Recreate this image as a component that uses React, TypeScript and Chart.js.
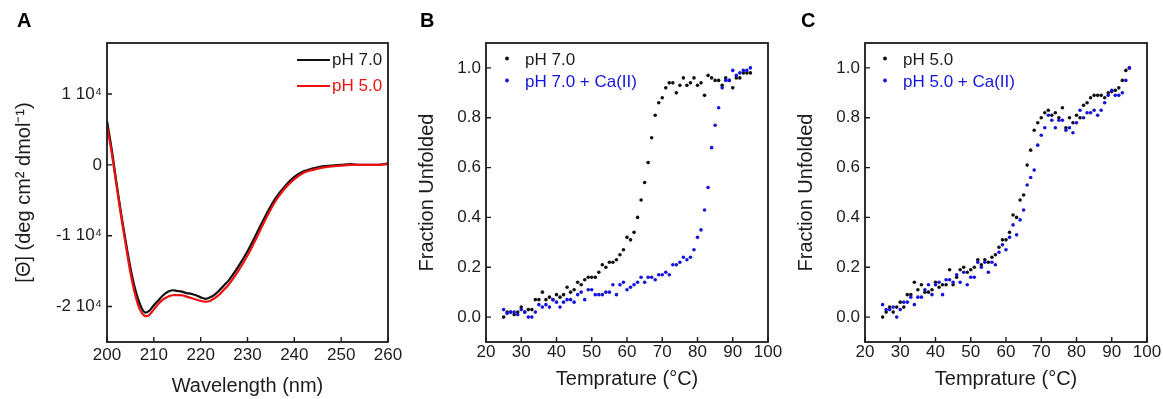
import React, { useEffect, useRef } from "react";
import { Chart, registerables } from "chart.js";

Chart.register(...registerables);

const FONT_FAMILY = "'Liberation Sans', Arial, Helvetica, sans-serif";
const TEXT_COLOR = "#1c1c1c";
const AXIS_COLOR = "#1a1a1a";
const BLACK = "#111111";
const RED = "#ee1111";
const BLUE = "#1414dc";

// ---------- Panel A: CD spectra ----------
const wavelengthNm = [
  200, 201, 202, 203, 204, 205, 206, 207, 208, 209, 210, 211, 212, 213, 214, 215, 216, 217, 218, 219,
  220, 221, 222, 223, 224, 225, 226, 228, 230, 232, 234, 236, 238, 240, 242, 244, 246, 248, 250, 252,
  254, 256, 258, 260,
];
const cdPH70 = [
  6200, 2200, -2400, -6800, -10800, -14500, -17500, -19600, -20800, -20600, -19800, -19100, -18400,
  -17900, -17700, -17800, -17900, -18100, -18200, -18400, -18700, -18900, -18700, -18300, -17700,
  -17000, -16300, -14400, -12200, -9600, -7000, -4700, -3000, -1700, -900, -500, -200, -100, 0, 100,
  0, 0, 0, 200,
];
const cdPH50 = [
  5500, 1700, -2800, -7200, -11300, -15200, -18300, -20400, -21300, -21200, -20400, -19600, -19000,
  -18600, -18400, -18400, -18400, -18600, -18800, -19000, -19200, -19300, -19200, -18800, -18300,
  -17600, -16900, -15000, -12800, -10200, -7500, -5100, -3300, -2000, -1100, -700, -400, -200, -100,
  0, 0, 0, 0, 100,
];
const cdXTicks = [200, 210, 220, 230, 240, 250, 260];
const cdYTickValues = [-20000, -10000, 0, 10000];
const cdYTickLabels = ["-2 10⁴", "-1 10⁴", "0", "1 10⁴"];

// ---------- Panels B & C: thermal unfolding ----------
const temperatureC = [
  25, 26, 27, 28, 29, 30, 31, 32, 33, 34, 35, 36, 37, 38, 39, 40, 41, 42, 43, 44, 45, 46, 47, 48, 49,
  50, 51, 52, 53, 54, 55, 56, 57, 58, 59, 60, 61, 62, 63, 64, 65, 66, 67, 68, 69, 70, 71, 72, 73, 74,
  75, 76, 77, 78, 79, 80, 81, 82, 83, 84, 85, 86, 87, 88, 89, 90, 91, 92, 93, 94, 95,
];
const unfoldPH70 = [
  0.0, 0.02, 0.02, 0.01, 0.02, 0.04, 0.02, 0.03, 0.03,
  0.07, 0.07, 0.1, 0.07, 0.08, 0.07, 0.09, 0.08, 0.09, 0.12,
  0.1, 0.11, 0.14, 0.13, 0.15, 0.16, 0.16, 0.16, 0.18, 0.21,
  0.2, 0.22, 0.22, 0.23, 0.25, 0.27, 0.32, 0.31, 0.34, 0.4,
  0.47, 0.54, 0.62, 0.72, 0.81, 0.86, 0.88, 0.92, 0.94, 0.94,
  0.9, 0.93, 0.96, 0.93, 0.94, 0.96, 0.93, 0.94, 0.89, 0.97,
  0.96, 0.95, 0.95, 0.93, 0.96, 0.95, 0.92, 0.96, 0.96, 0.98, 0.98, 0.98,
];
const unfoldPH70Ca = [
  0.03, 0.015, 0.02, 0.02, 0.01, 0.03, 0.02, 0.0, 0.0,
  0.02, 0.05, 0.04, 0.05, 0.04, 0.07, 0.06, 0.04, 0.06, 0.07,
  0.07, 0.06, 0.09, 0.1, 0.07, 0.11, 0.11, 0.09, 0.09, 0.09,
  0.1, 0.1, 0.13, 0.09, 0.13, 0.14, 0.11, 0.12, 0.13, 0.14,
  0.16, 0.14, 0.16, 0.16, 0.15, 0.17, 0.17, 0.18, 0.17, 0.21,
  0.21, 0.22, 0.24, 0.23, 0.24, 0.27, 0.32, 0.35, 0.43, 0.52,
  0.68, 0.77, 0.84, 0.92, 0.95, 0.95, 0.99, 0.97, 0.98, 0.99, 0.99, 1.0,
];
const unfoldPH50 = [
  0.0, 0.02, 0.04, 0.02, 0.04, 0.06, 0.04, 0.09, 0.09,
  0.14, 0.11, 0.13, 0.1, 0.1, 0.11, 0.14, 0.12, 0.13, 0.13,
  0.19, 0.13, 0.16, 0.19, 0.2, 0.18, 0.19, 0.2, 0.23, 0.21,
  0.23, 0.22, 0.24, 0.25, 0.28, 0.31, 0.31, 0.34, 0.41, 0.4,
  0.47, 0.49, 0.61, 0.67, 0.75, 0.78, 0.8, 0.82, 0.83, 0.81,
  0.82, 0.8, 0.84, 0.76, 0.8, 0.78, 0.81, 0.8, 0.85, 0.86,
  0.88, 0.89, 0.89, 0.89, 0.88, 0.9, 0.905, 0.91, 0.92, 0.95, 0.99, 1.0,
];
const unfoldPH50Ca = [
  0.05, 0.03, 0.03, 0.04, 0.0, 0.03, 0.06, 0.06, 0.08,
  0.05, 0.08, 0.08, 0.11, 0.13, 0.09, 0.13, 0.14, 0.09, 0.15,
  0.15, 0.14, 0.17, 0.14, 0.18, 0.13, 0.16, 0.16, 0.22, 0.2,
  0.22, 0.18, 0.22, 0.21, 0.26, 0.29, 0.27, 0.32, 0.37, 0.33,
  0.39, 0.43, 0.53, 0.56, 0.59, 0.69, 0.73, 0.76, 0.81, 0.79,
  0.76, 0.79, 0.79, 0.75, 0.76, 0.74, 0.78, 0.83, 0.8, 0.82,
  0.82, 0.83, 0.81, 0.83, 0.86, 0.89, 0.91, 0.89, 0.89, 0.9, 0.95, 1.0,
];
const tempXTicks = [20, 30, 40, 50, 60, 70, 80, 90, 100];
const fracYTicks = [0, 0.2, 0.4, 0.6, 0.8, 1.0];
const fracYTickLabels = ["0.0", "0.2", "0.4", "0.6", "0.8", "1.0"];

const tickFont = { family: FONT_FAMILY, size: 17 };
const titleFont = { family: FONT_FAMILY, size: 20 };

type LegendItem = { label: string; color: string; textColor: string; kind: "line" | "dot" };
type DecorCfg = {
  panelLabel: string;
  labelX: number;
  legend: LegendItem[];
  markDx: number;
  markDx2: number;
  textDx: number;
  rowY: number[];
};

function decorPlugin(cfg: DecorCfg) {
  return {
    id: "decor",
    afterDatasetsDraw(chart: any) {
      const { ctx, chartArea: a } = chart;
      const xs = chart.scales.x;
      const ys = chart.scales.y;
      ctx.save();
      // inward tick marks
      ctx.strokeStyle = AXIS_COLOR;
      ctx.lineWidth = 1.4;
      ctx.beginPath();
      xs.ticks.forEach((t: any) => {
        const p = xs.getPixelForValue(t.value);
        ctx.moveTo(p, a.bottom);
        ctx.lineTo(p, a.bottom - 5);
      });
      ys.ticks.forEach((t: any) => {
        const p = ys.getPixelForValue(t.value);
        ctx.moveTo(a.left, p);
        ctx.lineTo(a.left + 5, p);
      });
      ctx.stroke();
      // frame
      ctx.lineWidth = 1.8;
      ctx.strokeRect(a.left, a.top, a.right - a.left, a.bottom - a.top);
      // legend
      ctx.font = `17px ${FONT_FAMILY}`;
      ctx.textBaseline = "middle";
      ctx.textAlign = "left";
      cfg.legend.forEach((item, i) => {
        const y = a.top + cfg.rowY[i];
        if (item.kind === "line") {
          ctx.strokeStyle = item.color;
          ctx.lineWidth = 2;
          ctx.beginPath();
          ctx.moveTo(a.left + cfg.markDx, y);
          ctx.lineTo(a.left + cfg.markDx2, y);
          ctx.stroke();
        } else {
          ctx.fillStyle = item.color;
          ctx.beginPath();
          ctx.arc(a.left + cfg.markDx, y - 1.5, 1.9, 0, Math.PI * 2);
          ctx.fill();
        }
        ctx.fillStyle = item.textColor;
        ctx.fillText(item.label, a.left + cfg.textDx, y);
      });
      // panel letter
      ctx.font = `bold 20px ${FONT_FAMILY}`;
      ctx.textBaseline = "alphabetic";
      ctx.fillStyle = "#000";
      ctx.fillText(cfg.panelLabel, cfg.labelX, 27);
      ctx.restore();
    },
  };
}

function baseX(min: number, max: number, ticks: number[], title: string, tickPad: number, titlePadBottom: number) {
  return {
    type: "linear",
    min,
    max,
    afterBuildTicks: (s: any) => {
      s.ticks = ticks.map((v) => ({ value: v }));
    },
    afterFit: (s: any) => {
      s.height = 57;
      s.paddingLeft = 0;
      s.paddingRight = 0;
    },
    grid: { display: false, drawTicks: false },
    border: { display: false },
    ticks: {
      font: tickFont,
      color: TEXT_COLOR,
      padding: tickPad,
      maxRotation: 0,
      autoSkip: false,
      callback: (v: number) => String(v),
    },
    title: { display: true, text: title, font: titleFont, color: TEXT_COLOR, padding: { top: 0, bottom: titlePadBottom } },
  };
}

function baseY(
  min: number,
  max: number,
  tickValues: number[],
  tickLabels: string[],
  width: number,
  title: string,
  titlePadTop: number,
  tickPad: number
) {
  return {
    type: "linear",
    min,
    max,
    afterBuildTicks: (s: any) => {
      s.ticks = tickValues.map((v) => ({ value: v }));
    },
    afterFit: (s: any) => {
      s.width = width;
      s.paddingTop = 0;
      s.paddingBottom = 0;
    },
    grid: { display: false, drawTicks: false },
    border: { display: false },
    ticks: {
      font: tickFont,
      color: TEXT_COLOR,
      padding: tickPad,
      autoSkip: false,
      callback: (v: number) => {
        const i = tickValues.findIndex((t) => Math.abs(t - v) < 1e-9);
        return i >= 0 ? tickLabels[i] : "";
      },
    },
    title: { display: true, text: title, font: titleFont, color: TEXT_COLOR, padding: { top: titlePadTop, bottom: 0 } },
  };
}

function configA(): any {
  return {
    type: "line",
    data: {
      datasets: [
        {
          label: "pH 5.0",
          data: wavelengthNm.map((x, i) => ({ x, y: cdPH50[i] })),
          borderColor: RED,
          borderWidth: 2.2,
          pointRadius: 0,
          tension: 0.35,
          order: 0,
        },
        {
          label: "pH 7.0",
          data: wavelengthNm.map((x, i) => ({ x, y: cdPH70[i] })),
          borderColor: BLACK,
          borderWidth: 2.2,
          pointRadius: 0,
          tension: 0.35,
          order: 1,
        },
      ],
    },
    options: {
      responsive: false,
      animation: false,
      events: [],
      layout: { padding: { left: 0, top: 43, right: 22, bottom: 0 } },
      plugins: { legend: { display: false }, tooltip: { enabled: false } },
      scales: {
        x: baseX(200, 260, cdXTicks, "Wavelength (nm)", 3, 1),
        y: baseY(-25000, 17200, cdYTickValues, cdYTickLabels, 107, "[Θ] (deg cm² dmol⁻¹)", 12, 5),
      },
    },
    plugins: [
      decorPlugin({
        panelLabel: "A",
        labelX: 17,
        legend: [
          { label: "pH 7.0", color: BLACK, textColor: TEXT_COLOR, kind: "line" },
          { label: "pH 5.0", color: RED, textColor: RED, kind: "line" },
        ],
        markDx: 190,
        markDx2: 223,
        textDx: 225,
        rowY: [17, 43],
      }),
    ],
  };
}

function configUnfold(
  black: number[],
  blue: number[],
  blackLabel: string,
  blueLabel: string,
  panelLabel: string,
  labelX: number,
  yWidth: number,
  yTitlePad: number,
  padRight: number,
  markDx: number,
  textDx: number
): any {
  return {
    type: "scatter",
    data: {
      datasets: [
        {
          label: blueLabel,
          data: temperatureC.map((x, i) => ({ x, y: blue[i] })),
          backgroundColor: BLUE,
          borderWidth: 0,
          pointRadius: 1.8,
          order: 0,
        },
        {
          label: blackLabel,
          data: temperatureC.map((x, i) => ({ x, y: black[i] })),
          backgroundColor: BLACK,
          borderWidth: 0,
          pointRadius: 1.8,
          order: 1,
        },
      ],
    },
    options: {
      responsive: false,
      animation: false,
      events: [],
      layout: { padding: { left: 0, top: 43, right: padRight, bottom: 0 } },
      plugins: { legend: { display: false }, tooltip: { enabled: false } },
      scales: {
        x: baseX(20, 100, tempXTicks, "Temprature (°C)", 0, 8),
        y: baseY(-0.1, 1.1, fracYTicks, fracYTickLabels, yWidth, "Fraction Unfolded", yTitlePad, 5),
      },
    },
    plugins: [
      decorPlugin({
        panelLabel,
        labelX,
        legend: [
          { label: blackLabel, color: BLACK, textColor: TEXT_COLOR, kind: "dot" },
          { label: blueLabel, color: BLUE, textColor: BLUE, kind: "dot" },
        ],
        markDx,
        markDx2: markDx,
        textDx,
        rowY: [17, 39],
      }),
    ],
  };
}

function Panel({ left, width, makeConfig }: { left: number; width: number; makeConfig: () => any }) {
  const ref = useRef<HTMLCanvasElement | null>(null);
  useEffect(() => {
    if (!ref.current) return;
    const chart = new Chart(ref.current, makeConfig());
    return () => chart.destroy();
  }, []);
  return (
    <div style={{ position: "absolute", left, top: 0, width, height: 399 }}>
      <canvas ref={ref} width={width} height={399} style={{ width, height: 399, display: "block" }} />
    </div>
  );
}

export default function App() {
  return (
    <div style={{ position: "absolute", left: 0, top: 0, width: 1163, height: 399, background: "#fff", overflow: "hidden" }}>
      <Panel left={0} width={410} makeConfig={configA} />
      <Panel
        left={400}
        width={385}
        makeConfig={() =>
          configUnfold(unfoldPH70, unfoldPH70Ca, "pH 7.0", "pH 7.0 + Ca(II)", "B", 20, 86, 15, 17, 21, 39)
        }
      />
      <Panel
        left={790}
        width={373}
        makeConfig={() =>
          configUnfold(unfoldPH50, unfoldPH50Ca, "pH 5.0", "pH 5.0 + Ca(II)", "C", 11, 75, 4, 16, 20, 38)
        }
      />
    </div>
  );
}
